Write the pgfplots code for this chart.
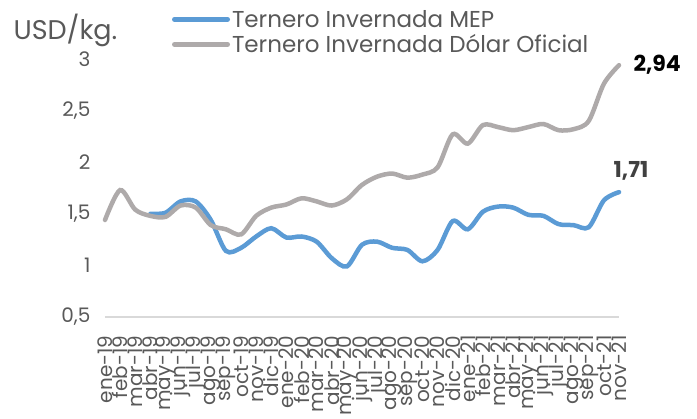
\documentclass[border=0pt]{standalone}
\usepackage{pgfplots}
\pgfplotsset{compat=1.18}
\usepackage{fontspec}
\setmainfont{Poppins}
\definecolor{mepblue}{HTML}{5B9BD5}
\definecolor{ofgray}{HTML}{AEAAAA}
\definecolor{txt}{HTML}{595959}
\definecolor{axgray}{HTML}{D9D9D9}
\begin{document}
\begin{tikzpicture}
\useasboundingbox (-105pt,-102pt) rectangle (592pt,317pt);
\begin{axis}[
    scale only axis,
    width=514pt, height=258pt,
    xmin=0, xmax=34,
    ymin=0.5, ymax=3,
    ytick={0.5,1,1.5,2,2.5,3},
    xtick={0,...,34},
    xticklabels={ene-19,feb-19,mar-19,abr-19,may-19,jun-19,jul-19,ago-19,sep-19,oct-19,nov-19,dic-19,
                 ene-20,feb-20,mar-20,abr-20,may-20,jun-20,jul-20,ago-20,sep-20,oct-20,nov-20,dic-20,
                 ene-21,feb-21,mar-21,abr-21,may-21,jun-21,jul-21,ago-21,sep-21,oct-21,nov-21},
    axis line style={draw=none},
    tick style={draw=none},
    clip=false,
    /pgf/number format/use comma,
    /pgf/number format/assume math mode=true,
    yticklabel style={font=\fontsize{20}{20}\selectfont, text=txt},
    yticklabel shift=11pt,
    xticklabel style={font=\fontsize{20}{20}\selectfont, text=txt, rotate=90, anchor=east},
    xticklabel shift=15pt,
    legend style={
        at={(axis description cs:0.130,1.198)}, anchor=north west,
        draw=none, fill=none, inner sep=0pt,
        font=\fontsize{23}{23}\selectfont, text=txt,
        cells={anchor=west}, row sep=2pt,
    },
    legend image code/.code={\draw[#1, line width=5pt, line cap=round] (0pt,0pt) -- (53pt,0pt);},
]
% linea base en 0,5
\draw[axgray, line width=1.5pt] (axis cs:0,0.5) -- (axis cs:34,0.5);

% Ternero Invernada MEP
\addplot[color=mepblue, line width=4.5pt, smooth, line cap=round] coordinates {
    (3,1.50) (4,1.51) (5,1.62) (6,1.62) (7,1.44) (8,1.14) (9,1.17) (10,1.28) (11,1.36)
    (12,1.27) (13,1.28) (14,1.23) (15,1.07) (16,0.99) (17,1.20) (18,1.23) (19,1.17)
    (20,1.15) (21,1.04) (22,1.15) (23,1.43) (24,1.35) (25,1.52) (26,1.57) (27,1.56)
    (28,1.49) (29,1.48) (30,1.40) (31,1.39) (32,1.37) (33,1.63) (34,1.71)
};
\addlegendentry{Ternero Invernada MEP}

% Ternero Invernada Dolar Oficial
\addplot[color=ofgray, line width=4.5pt, smooth, line cap=round] coordinates {
    (0,1.44) (1,1.73) (2,1.54) (3,1.48) (4,1.47) (5,1.58) (6,1.56) (7,1.39) (8,1.35)
    (9,1.30) (10,1.48) (11,1.56) (12,1.59) (13,1.65) (14,1.62) (15,1.58) (16,1.64)
    (17,1.78) (18,1.86) (19,1.89) (20,1.85) (21,1.88) (22,1.95) (23,2.27) (24,2.18)
    (25,2.36) (26,2.34) (27,2.31) (28,2.34) (29,2.37) (30,2.31) (31,2.32) (32,2.40)
    (33,2.76) (34,2.94)
};
\addlegendentry{Ternero Invernada Dólar Oficial}

\node[anchor=west, xshift=11pt, font=\bfseries\fontsize{22}{22}\selectfont] at (axis cs:34,2.94) {2,94};
\node[anchor=south, xshift=12pt, yshift=8pt, text=black!75, font=\bfseries\fontsize{22}{22}\selectfont] at (axis cs:34,1.71) {1,71};
\end{axis}
\node[anchor=west, text=txt, font=\fontsize{27}{27}\selectfont] at (-95pt,287pt) {USD/kg.};
\end{tikzpicture}
\end{document}
